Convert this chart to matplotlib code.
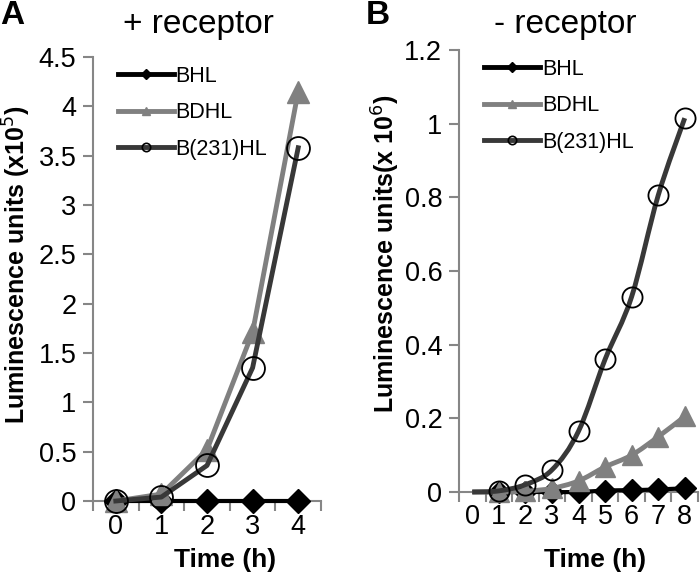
import numpy as np
import matplotlib.pyplot as plt
from matplotlib.path import Path
from matplotlib.patches import PathPatch
from matplotlib.lines import Line2D

plt.rcParams['font.family'] = ['Liberation Sans', 'DejaVu Sans']

# panel A: + receptor (x10^5)
hours_a = [0, 1, 2, 3, 4]
bhl_a = [0.0, 0.0, 0.0, 0.0, 0.0]
bdhl_a = [0.0, 0.07, 0.52, 1.71, 4.15]
b231_a = [0.0, 0.04, 0.36, 1.35, 3.58]

# panel B: - receptor (x10^6)
hours_b = [0, 1, 2, 3, 4, 5, 6, 7, 8]
bhl_b = [0.0, 0.0, 0.0, 0.0, 0.0, 0.004, 0.005, 0.007, 0.01]
bdhl_b = [0.0, 0.0, 0.002, 0.01, 0.03, 0.068, 0.10, 0.15, 0.205]
b231_b = [0.0, 0.003, 0.02, 0.06, 0.165, 0.36, 0.53, 0.805, 1.015]

names = ["BHL", "BDHL", "B(231)HL"]
col_bhl = "#000000"
col_bdhl = "#808080"
col_b231 = "#383838"
axis_gray = "#868686"

W, H = 700.0, 575.0


def smooth_path(x, y):
    # excel style smoothed line, cubic bezier through every point
    x = np.asarray(x, float)
    y = np.asarray(y, float)
    n = len(x)
    verts = [(x[0], y[0])]
    codes = [Path.MOVETO]
    for i in range(n - 1):
        p0 = np.array([x[max(i - 1, 0)], y[max(i - 1, 0)]])
        p1 = np.array([x[i], y[i]])
        p2 = np.array([x[i + 1], y[i + 1]])
        p3 = np.array([x[min(i + 2, n - 1)], y[min(i + 2, n - 1)]])
        c1 = p1 + (p2 - p0) / 6.0
        c2 = p2 - (p3 - p1) / 6.0
        verts += [tuple(c1), tuple(c2), tuple(p2)]
        codes += [Path.CURVE4] * 3
    return Path(verts, codes)


def style_axes(ax, n, ymax, ystep):
    for s in ["top", "right"]:
        ax.spines[s].set_visible(False)
    for s in ["left", "bottom"]:
        ax.spines[s].set_color(axis_gray)
        ax.spines[s].set_linewidth(1.5)
    ax.set_xlim(-0.5, n - 0.5)
    ax.set_ylim(0, ymax)
    ax.set_xticks(range(n))
    ax.set_xticks(np.arange(-0.5, n, 1.0), minor=True)
    ax.tick_params(axis="x", which="major", length=0, labelsize=19.5, pad=9)
    ax.tick_params(axis="x", which="minor", length=7, width=1.5, color=axis_gray, direction="out")
    ax.set_yticks(np.arange(0, ymax + ystep / 2, ystep))
    ax.tick_params(axis="y", length=7, width=1.5, color=axis_gray, direction="out", labelsize=19.5, pad=5)


def legend_handles():
    return [
        Line2D([], [], color=col_bhl, lw=3.5, marker="D", ms=5),
        Line2D([], [], color=col_bdhl, lw=3.5, marker="^", ms=6),
        Line2D([], [], color=col_b231, lw=3.5, marker="o", ms=6,
               mfc="none", mec="black", mew=1.2),
    ]


fig = plt.figure(figsize=(7, 5.75), dpi=100)

# ---- panel A
ax1 = fig.add_axes([93 / W, 1 - 501 / H, 228 / W, 444 / H])
ax1.plot(hours_a, bhl_a, color=col_bhl, lw=3, marker="D", ms=12, clip_on=False, zorder=3)
ax1.plot(hours_a, bdhl_a, color=col_bdhl, lw=3.5, marker="^", ms=16, clip_on=False, zorder=4)
ax1.plot(hours_a, b231_a, color=col_b231, lw=3.5, marker="o", ms=16.5,
         mfc="none", mec="black", mew=1.3, clip_on=False, zorder=5)
style_axes(ax1, len(hours_a), 4.5, 0.5)
ax1.set_yticklabels(["0", "0.5", "1", "1.5", "2", "2.5", "3", "3.5", "4", "4.5"])
ax1.set_ylabel("Luminescence units (x10$^{5}$)", fontsize=18, fontweight="bold", va="center")
ax1.yaxis.set_label_coords(17 / W, 1 - 265 / H, transform=fig.transFigure)
ax1.set_xlabel("Time (h)", fontsize=19, fontweight="bold", va="center")
ax1.xaxis.set_label_coords(225 / W, 1 - 560 / H, transform=fig.transFigure)
ax1.legend(legend_handles(), names, loc="upper left", bbox_to_anchor=(0.07, 1.0),
           frameon=False, fontsize=15.5, handlelength=2.6, handletextpad=0.1,
           labelspacing=0.72, borderaxespad=0)
fig.text(198 / W, 1 - 24 / H, "+ receptor", fontsize=24, ha="center", va="center")
fig.text(0.0, 1 - 16 / H, "A", fontsize=24, fontweight="bold", ha="left", va="center")

# ---- panel B
ax2 = fig.add_axes([459 / W, 1 - 492 / H, 239 / W, 442 / H])
bhl_line = smooth_path(hours_b, bhl_b)
bdhl_line = smooth_path(hours_b, bdhl_b)
b231_line = smooth_path(hours_b, b231_b)
ax2.add_patch(PathPatch(bhl_line, fill=False, ec=col_bhl, lw=3, zorder=3, clip_on=False))
ax2.plot(hours_b[1:], bhl_b[1:], ls="none", marker="D", ms=11, color=col_bhl, clip_on=False, zorder=3)
ax2.add_patch(PathPatch(bdhl_line, fill=False, ec=col_bdhl, lw=3.5, zorder=4, clip_on=False))
ax2.plot(hours_b[1:], bdhl_b[1:], ls="none", marker="^", ms=14.5, color=col_bdhl, clip_on=False, zorder=4)
ax2.add_patch(PathPatch(b231_line, fill=False, ec=col_b231, lw=3.5, zorder=5, clip_on=False))
ax2.plot(hours_b[1:], b231_b[1:], ls="none", marker="o", ms=14.5, mfc="none", mec="black",
         mew=1.3, clip_on=False, zorder=5)
style_axes(ax2, len(hours_b), 1.2, 0.2)
ax2.set_yticklabels(["0", "0.2", "0.4", "0.6", "0.8", "1", "1.2"])
ax2.set_ylabel("Luminescence units(x 10$^{6}$)", fontsize=18, fontweight="bold", va="center")
ax2.yaxis.set_label_coords(386 / W, 1 - 254 / H, transform=fig.transFigure)
ax2.set_xlabel("Time (h)", fontsize=19, fontweight="bold", va="center")
ax2.xaxis.set_label_coords(595 / W, 1 - 560 / H, transform=fig.transFigure)
ax2.legend(legend_handles(), names, loc="upper left", bbox_to_anchor=(0.07, 1.0),
           frameon=False, fontsize=15.5, handlelength=2.6, handletextpad=0.1,
           labelspacing=0.72, borderaxespad=0)
fig.text(565 / W, 1 - 24 / H, "- receptor", fontsize=24, ha="center", va="center")
fig.text(366 / W, 1 - 16 / H, "B", fontsize=24, fontweight="bold", ha="left", va="center")

fig.savefig("out.png", dpi=100)
